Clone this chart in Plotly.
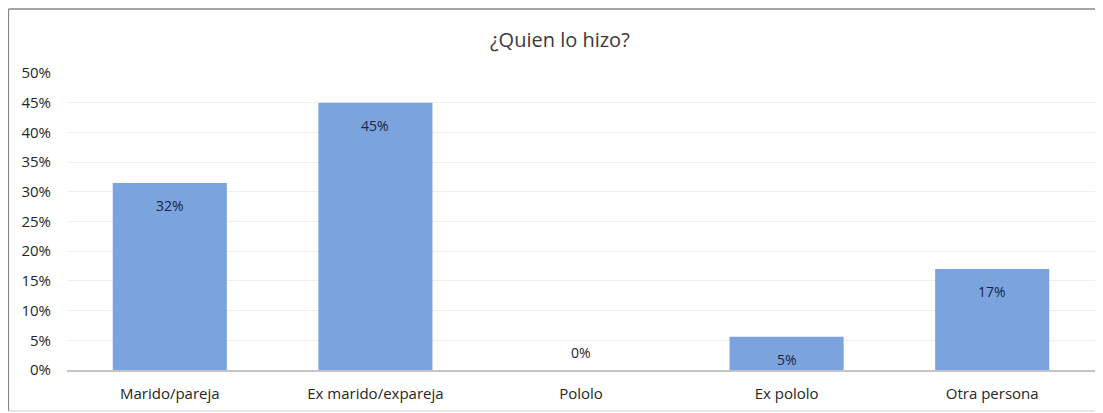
import plotly.graph_objects as go

categories = ["Marido/pareja", "Ex marido/expareja", "Pololo", "Ex pololo", "Otra persona"]
values = [31.5, 45.0, 0.0, 5.6, 17.0]
labels = ["32%", "45%", "0%", "5%", "17%"]
y_ticks = [0, 5, 10, 15, 20, 25, 30, 35, 40, 45, 50]
y_tick_text = [f"{t}%" for t in y_ticks]

FONT = "Open Sans, Liberation Sans, sans-serif"

fig = go.Figure()
fig.add_trace(go.Bar(
    x=categories, y=values,
    marker=dict(color="#7BA4DF", line=dict(width=0)),
    hoverinfo="skip",
))

for c, v, t in zip(categories, values, labels):
    if v > 3:
        fig.add_annotation(x=c, y=v, xref="x", yref="y", text=t, showarrow=False,
                           yanchor="top", yshift=-11,
                           font=dict(family=FONT, size=14, color="#1a2540"))
    else:
        fig.add_annotation(x=c, y=v, xref="x", yref="y", text=t, showarrow=False,
                           yanchor="bottom", yshift=6,
                           font=dict(family=FONT, size=14, color="#1a2540"))

# outer frame (top, left, bottom)
fig.add_shape(type="line", xref="paper", yref="paper", x0=-0.0569, x1=1.02, y0=1.2155, y1=1.2155,
              line=dict(color="#888888", width=1.5), layer="below")
fig.add_shape(type="line", xref="paper", yref="paper", x0=-0.0569, x1=-0.0569, y0=-0.138, y1=1.2155,
              line=dict(color="#888888", width=1.2), layer="below")
fig.add_shape(type="line", xref="paper", yref="paper", x0=-0.0569, x1=1.02, y0=-0.138, y1=-0.138,
              line=dict(color="#d0d0d0", width=1), layer="below")

fig.update_layout(
    width=1095, height=405,
    margin=dict(l=59, r=8, t=65, b=43),
    paper_bgcolor="white", plot_bgcolor="white",
    showlegend=False,
    bargap=0.445,
    title=dict(text="¿Quien lo hizo?", x=0.504, xanchor="center", y=0.92, yanchor="middle",
               font=dict(family=FONT, size=20, color="#3a3a3a")),
    font=dict(family=FONT, size=15, color="#333333"),
    xaxis=dict(showgrid=False, showline=True, linecolor="#c4c4c4", linewidth=1.5,
               ticks="", ticklabelstandoff=9, tickfont=dict(size=15, color="#262626")),
    yaxis=dict(range=[0, 50], tickvals=y_ticks, ticktext=y_tick_text,
               showgrid=True, gridcolor="#efefef", gridwidth=1,
               zeroline=False, showline=False, ticks="",
               ticklabelstandoff=15, tickfont=dict(size=15, color="#262626")),
)

fig.write_html("out.html")
